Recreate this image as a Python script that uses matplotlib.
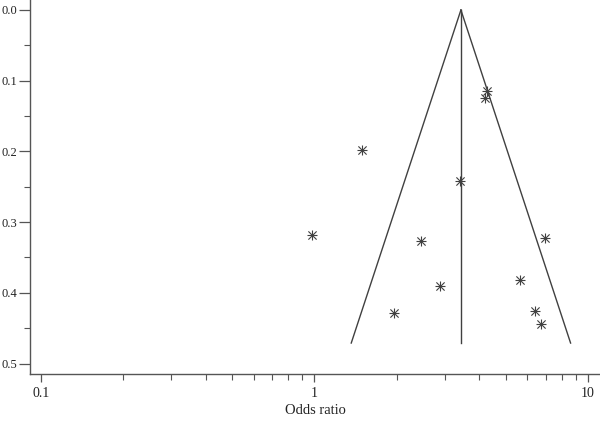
import numpy as np
import matplotlib
matplotlib.use("Agg")
import matplotlib.pyplot as plt
from matplotlib.ticker import LogLocator, FixedLocator, NullFormatter

# Study data: odds ratios and standard errors (of log OR)
odds_ratio = [4.27, 4.20, 1.49, 3.41, 0.978, 2.46, 6.95, 5.65, 2.88, 1.96, 6.41, 6.74]
std_error = [0.114, 0.125, 0.198, 0.242, 0.318, 0.326, 0.322, 0.382, 0.390, 0.428, 0.425, 0.444]
pooled_or = 3.43
se_max = 0.471
x_ticks = [0.1, 1, 10]
x_tick_labels = ["0.1", "1", "10"]
y_ticks = [0.0, 0.1, 0.2, 0.3, 0.4, 0.5]
y_tick_labels = ["0.0", "0.1", "0.2", "0.3", "0.4", "0.5"]

plt.rcParams['font.family'] = ['Liberation Serif', 'DejaVu Serif']
fig = plt.figure(figsize=(6.0, 4.22), dpi=100)
ax = fig.add_axes([0.05, 0.1137, 0.95, 0.8863])

col = '#404040'
se_line = np.array([0.0, se_max])
lo = np.exp(np.log(pooled_or) - 1.96 * se_line)
hi = np.exp(np.log(pooled_or) + 1.96 * se_line)
ax.plot(lo, se_line, color=col, lw=1.0)
ax.plot(hi, se_line, color=col, lw=1.0)
ax.plot([pooled_or, pooled_or], [0, se_max], color=col, lw=1.0)

ax.scatter(odds_ratio, std_error, marker='+', s=55, color=col, linewidths=0.8, zorder=3)
ax.scatter(odds_ratio, std_error, marker='x', s=35, color=col, linewidths=0.8, zorder=3)

ax.set_xscale('log')
ax.set_xlim(0.0912, 11.06)
ax.set_ylim(0.5148, -0.0141)

ax.xaxis.set_major_locator(FixedLocator(x_ticks))
ax.set_xticklabels(x_tick_labels)
ax.xaxis.set_minor_locator(LogLocator(base=10, subs=np.arange(2, 10)))
ax.xaxis.set_minor_formatter(NullFormatter())
ax.yaxis.set_major_locator(FixedLocator(y_ticks))
ax.set_yticklabels(y_tick_labels)
ax.yaxis.set_minor_locator(FixedLocator([0.05, 0.15, 0.25, 0.35, 0.45]))

for s in ['top', 'right']:
    ax.spines[s].set_visible(False)
for s in ['left', 'bottom']:
    ax.spines[s].set_color('#555555')
    ax.spines[s].set_linewidth(1.0)

ax.tick_params(axis='y', which='major', length=8, width=0.9, color='#555555', labelsize=9, pad=1, labelcolor='#222222')
ax.tick_params(axis='y', which='minor', length=4, width=0.8, color='#555555')
ax.tick_params(axis='x', which='major', length=6, width=0.9, color='#555555', labelsize=10, pad=3, labelcolor='#222222')
ax.tick_params(axis='x', which='minor', length=4, width=0.8, color='#555555')

ax.set_xlabel("Odds ratio", fontsize=10.5, color='#222222', labelpad=3)

fig.savefig("out.png", dpi=100)
